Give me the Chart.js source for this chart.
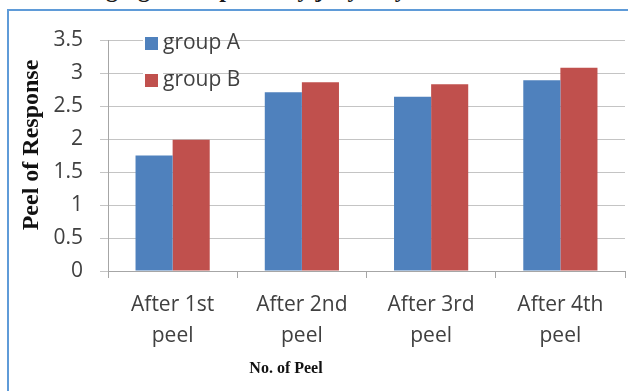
<!DOCTYPE html>
<html lang="en">
<head>
    <meta charset="UTF-8">
    <title>Peel of Response</title>
    <style>
        body {
            margin: 0;
            background: #ffffff;
            width: 628px;
            height: 391px;
            overflow: hidden;
            position: relative;
        }

        /* only the bottom of the page title shows above the frame */
        .cut-title {
            position: absolute;
            left: 50px;
            top: -22px;
            line-height: 22px;
            font-family: "Liberation Serif", serif;
            font-weight: bold;
            font-size: 24px;
            color: #1a1a1a;
            white-space: nowrap;
        }

        .frame {
            position: absolute;
            left: 7px;
            top: 9px;
            width: 640px;
            height: 400px;
            border-left: 2px solid #5f9bd8;
            border-top: 2px solid #5f9bd8;
            background: #ffffff;
        }

        canvas {
            position: absolute;
            left: 0;
            top: 0;
        }
    </style>
</head>
<body>
    <div class="cut-title">Changing of Response by jury Day</div>
    <div class="frame"></div>
    <canvas id="peelChart" width="628" height="391"></canvas>

    <script src="https://cdn.jsdelivr.net/npm/chart.js"></script>
    <script>
        // data
        const categories = [['After 1st', 'peel'], ['After 2nd', 'peel'], ['After 3rd', 'peel'], ['After 4th', 'peel']];
        const groupA = [1.75, 2.71, 2.64, 2.89];
        const groupB = [1.99, 2.86, 2.83, 3.08];
        const seriesNames = ['group A', 'group B'];
        const yTicks = [0, 0.5, 1, 1.5, 2, 2.5, 3, 3.5];

        const xTitle = 'No. of Peel';
        const yTitle = 'Peel of Response';

        const blue = '#4f81bd';
        const red = '#c0504d';

        // axis titles and the legend sit where Excel put them, so draw them here
        const extras = {
            id: 'extras',
            afterDraw(chart) {
                const ctx = chart.ctx;
                ctx.save();
                ctx.fillStyle = '#111111';
                ctx.textAlign = 'center';
                ctx.textBaseline = 'middle';

                ctx.font = 'bold 16px "Liberation Serif"';
                ctx.fillText(xTitle, 286, 369);

                ctx.translate(32, 145);
                ctx.rotate(-Math.PI / 2);
                ctx.font = 'bold 24px "Liberation Serif"';
                ctx.fillText(yTitle, 0, 0);
                ctx.restore();

                // legend
                ctx.save();
                ctx.font = '21px "Open Sans"';
                ctx.textAlign = 'left';
                ctx.textBaseline = 'middle';
                chart.data.datasets.forEach((ds, i) => {
                    const y = 43 + i * 37;
                    ctx.fillStyle = '#ffffff';
                    ctx.fillRect(143, y - 8, 20, 16);
                    ctx.fillStyle = ds.backgroundColor;
                    ctx.fillRect(145, y - 6, 13, 13);
                    ctx.fillStyle = '#404040';
                    ctx.fillText(ds.label, 163, y);
                });
                ctx.restore();
            }
        };

        const ctx = document.getElementById('peelChart').getContext('2d');
        const chart = new Chart(ctx, {
            type: 'bar',
            data: {
                labels: categories,
                datasets: [{
                    label: seriesNames[0],
                    data: groupA,
                    backgroundColor: blue,
                    categoryPercentage: 0.574,
                    barPercentage: 1
                }, {
                    label: seriesNames[1],
                    data: groupB,
                    backgroundColor: red,
                    categoryPercentage: 0.574,
                    barPercentage: 1
                }]
            },
            options: {
                responsive: false,
                animation: false,
                layout: {
                    padding: { top: 40, right: 3, bottom: 0, left: 0 }
                },
                plugins: {
                    legend: { display: false },
                    tooltip: { enabled: false }
                },
                scales: {
                    x: {
                        afterFit(scale) { scale.height = 120; },
                        grid: {
                            drawOnChartArea: false,
                            drawTicks: true,
                            tickLength: 7,
                            color: '#a6a6a6'
                        },
                        border: { color: '#a6a6a6' },
                        ticks: {
                            color: '#404040',
                            font: { family: 'Open Sans', size: 21, lineHeight: 1.45 },
                            padding: 12,
                            maxRotation: 0
                        }
                    },
                    y: {
                        min: 0,
                        max: 3.5,
                        afterFit(scale) { scale.width = 108; },
                        afterBuildTicks(scale) {
                            scale.ticks = yTicks.map(v => ({ value: v }));
                        },
                        grid: {
                            color: '#c4c4c4',
                            tickLength: 8
                        },
                        border: { color: '#a6a6a6' },
                        ticks: {
                            color: '#404040',
                            font: { family: 'Open Sans', size: 21 },
                            padding: 17,
                            callback: v => String(v)
                        }
                    }
                }
            },
            plugins: [extras]
        });
    </script>
</body>
</html>
